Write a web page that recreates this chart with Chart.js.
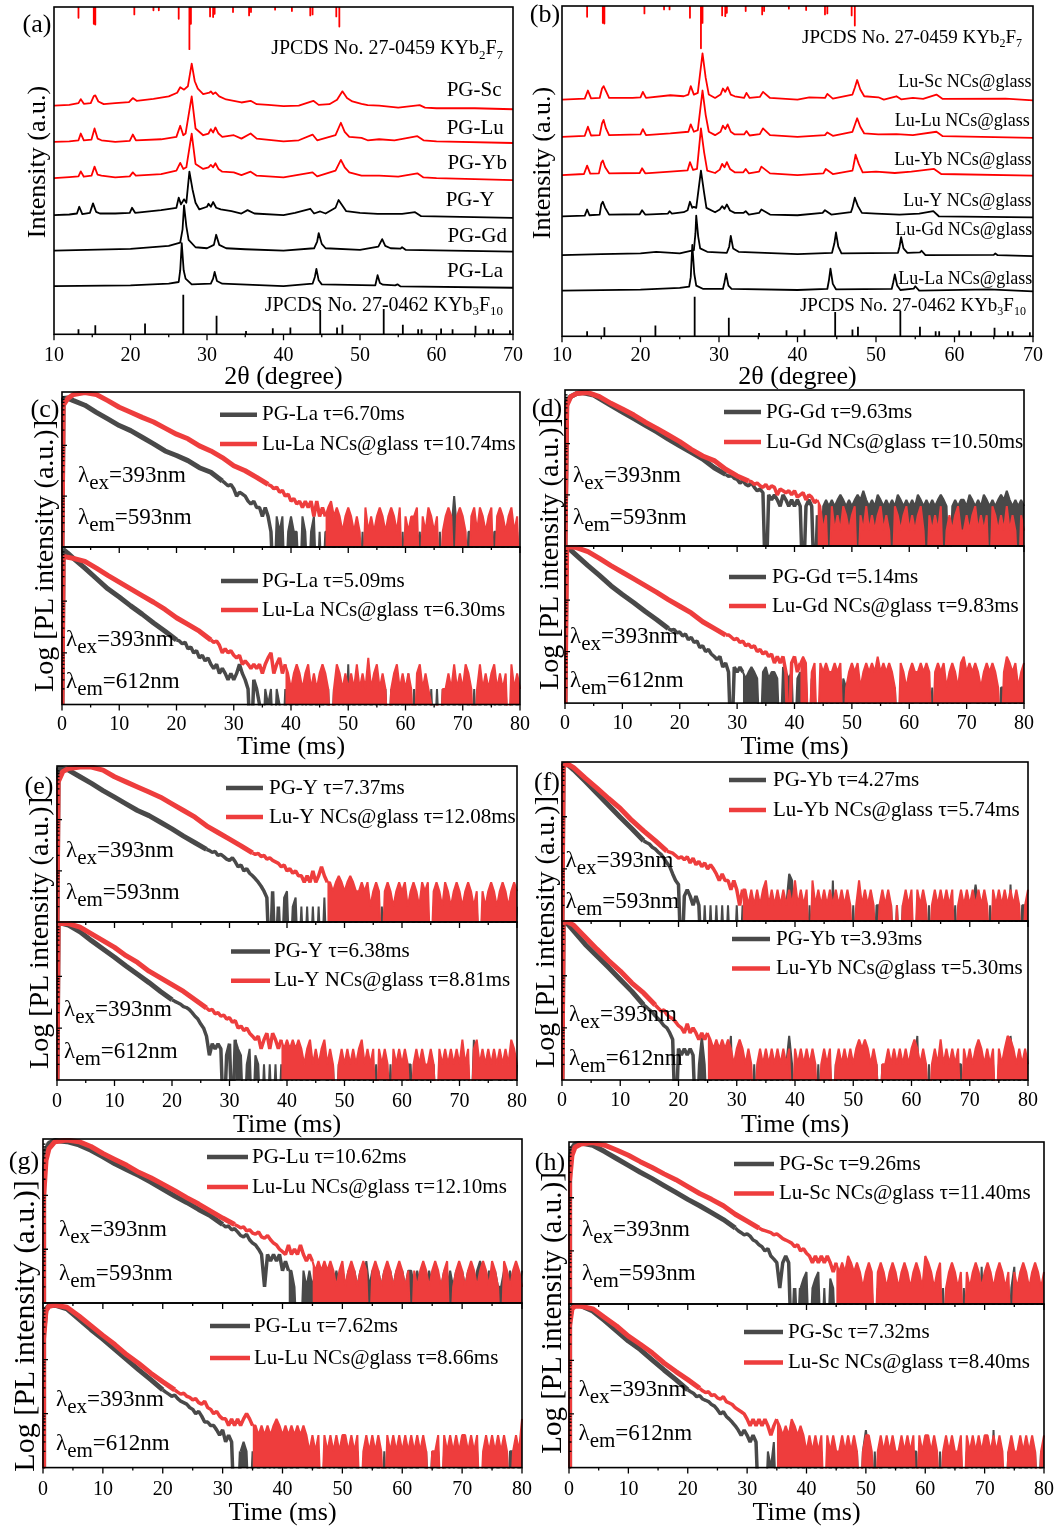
<!DOCTYPE html>
<html>
<head>
<meta charset="utf-8">
<script src="https://cdn.jsdelivr.net/npm/chart.js@4.4.1/dist/chart.umd.min.js"></script>
<style>
  body { margin: 0; background: #fff; width: 1060px; height: 1528px; position: relative; overflow: hidden;
         font-family: "Liberation Serif", "Times New Roman", serif; }
  canvas { position: absolute; }
  .lbl { position: absolute; line-height: 1; white-space: nowrap; color: #000; }
</style>
</head>
<body>
<script>
// ---------- XRD patterns, (a) glass ceramics PG-*, (b) Lu-* NCs@glass ----------
// [2theta, intensity a.u., stacked]
const aSc = [[10,68.8],[12,69],[13.2,69.5],[13.5,70.7],[13.9,69.3],[14.8,69.5],[15.2,71.6],[15.4,71.8],[15.8,70],[16.5,69.2],[18,69.5],[19.8,69.8],[20.3,71.0],[20.8,70.2],[23,70.8],[25,71.5],[26.1,72.6],[26.5,74.2],[27.0,73.5],[27.5,74.5],[28.0,81.2],[28.4,76],[28.8,73.8],[29.5,72.2],[30.3,72.6],[30.5,73],[30.8,72.2],[31.1,72.7],[31.6,71.5],[32.5,70.6],[33.5,70.2],[34.5,69.7],[35.7,70.2],[36.5,69.2],[38,69],[40,68.6],[42,68.8],[43.9,70.2],[44.6,69],[46,69.2],[47,70.5],[47.7,73],[48.3,71],[49,70],[50.2,69.3],[51,68.9],[52.5,68.8],[55,68.2],[57.8,68.9],[58.5,68.2],[60,68],[65,68],[70,67.7]];
const aLu = [[10,58],[12,58.2],[13.2,58.5],[13.5,60.5],[13.9,58.5],[14.9,58.7],[15.3,62],[15.7,59],[16.2,58.5],[18,58],[19.9,58.3],[20.3,60.2],[20.7,58.5],[24,58.8],[26,59.5],[26.5,62.8],[26.9,60],[27.2,60.5],[28.0,71.5],[28.5,62],[29.5,60],[30.2,60.5],[30.5,61.8],[30.8,60.8],[31.1,62.3],[31.5,60.5],[32,59.5],[33.5,60],[34.5,59],[35.7,60.5],[36.5,59],[40,58.2],[42,58.5],[43.8,60.2],[44.4,58.5],[46.8,60],[47.5,63.7],[48.0,61],[48.6,59.5],[50.2,59.2],[51,58.5],[52.5,58.8],[54.5,58.5],[57.5,59.7],[58.3,58.5],[60,58.2],[70,57.7]];
const aYb = [[10,47.3],[12,47.6],[13.2,47.8],[13.5,49.3],[13.9,47.7],[14.9,48],[15.3,50.7],[15.7,48.3],[16.2,48],[18,47.5],[19.9,47.8],[20.3,49],[20.7,48],[24,48.5],[26,49.5],[26.5,51.8],[26.9,50],[27.3,50.5],[28.0,60.5],[28.5,51.5],[29.5,50],[30.2,50.5],[30.5,51.2],[30.8,50.5],[31.1,51.7],[31.5,50],[32,49.2],[33.5,49],[34.5,48.2],[35.7,49.2],[36.5,48],[40,47.5],[43.8,49],[44.4,47.8],[46.8,49.5],[47.5,52.7],[48.0,50.5],[48.6,49],[50.2,48],[52.5,48],[55,47.7],[57.5,48.7],[58.3,47.5],[60,47.3],[70,46.7]];
const aY = [[10,36.3],[12,36.5],[13.0,36.8],[13.3,38.8],[13.7,36.6],[14.7,37],[15.1,39.8],[15.5,37.3],[16,36.8],[18,36.8],[19.9,37],[20.2,38.5],[20.6,37],[24,37.8],[26,38.5],[26.3,41.5],[26.6,39.5],[27.0,41],[27.3,40],[27.7,49.2],[28.1,44],[28.5,40],[29,38],[30.0,38.8],[30.2,39.7],[30.5,38.8],[30.8,40.2],[31.2,38.5],[31.8,38],[33.2,37.5],[34.5,36.8],[35.3,37.8],[36.2,36.8],[40,36.3],[41.5,37],[43.5,38.2],[44.0,36.8],[44.8,37.4],[45.5,36.8],[46.8,38.5],[47.2,40.8],[47.6,39.5],[48.2,37.5],[50,37],[52.3,36.7],[55.5,36.7],[57.2,37.2],[58,36],[70,35.5]];
const aGd = [[10,25.8],[20,26.3],[25,27.2],[26.5,28.2],[26.8,32],[27.0,39.2],[27.3,33],[27.6,29],[28.5,26.8],[30,26.5],[30.9,27.5],[31.2,30.5],[31.6,27.5],[32.5,26.5],[35,26.2],[40,25.8],[44,26.5],[44.4,28.5],[44.6,31],[45.0,27.8],[45.5,26.5],[50,26],[52.4,27],[52.9,29.2],[53.3,27.2],[54,26.5],[55.3,26.4],[55.5,26.8],[56,26],[70,25.5]];
const aLa = [[10,15.3],[20,15.5],[25,16],[26.3,16.5],[26.5,20],[26.7,28],[26.95,20],[27.2,17.5],[28,15.8],[30.5,16],[30.8,17.5],[31.0,19.5],[31.3,16.8],[32,16],[40,15.3],[43.8,16],[44.1,18],[44.3,20.4],[44.6,17],[45,15.8],[52,15.5],[52.1,16.5],[52.3,18.5],[52.6,16.2],[53,15.7],[54.6,15.5],[54.9,15.8],[55.3,15.2],[70,14.8]];

const bSc = [[10,70.5],[12.9,70.8],[13.3,73.2],[13.7,70.9],[14.8,71],[15.1,73.8],[15.3,74.5],[15.6,73],[16,71],[19,71],[20.0,71.2],[20.3,72.8],[20.7,71],[23.8,71.8],[25.5,71.5],[26.1,72],[26.4,74.5],[26.8,72],[27.3,72.5],[27.9,84.2],[28.3,77],[28.7,72],[29.5,71],[30.2,72],[30.5,73.8],[30.8,72.8],[31.1,74.2],[31.5,72],[32,71.5],[33.2,71],[33.5,72.5],[33.9,71],[35.2,71.3],[35.6,72.8],[36.5,71],[40,70.5],[41.5,71.2],[43.5,71],[43.8,72.2],[44.5,70.8],[47,72],[47.3,74],[47.6,76.3],[48.0,73.5],[48.5,71.5],[50.3,71.2],[51,70.5],[52.6,71.5],[53.2,70.6],[54.7,71],[56,70.7],[57.7,72],[58.5,70.7],[66.5,70.8],[70,70.3]];
const bLu = [[10,59.5],[12.9,59.8],[13.3,62.5],[13.7,59.9],[14.8,60],[15.1,63.5],[15.3,64.5],[15.6,62],[16,60],[20.0,60.2],[20.3,61.8],[20.7,60],[23.8,60.5],[26.1,61],[26.4,63.2],[26.8,61],[27.3,61.5],[27.9,73.2],[28.3,66],[28.7,61],[29.5,60],[30.2,61],[30.5,62.8],[30.8,61.8],[31.1,63.2],[31.5,61],[32,60.2],[33.2,60.2],[33.5,61.2],[33.9,59.9],[35.2,60.3],[35.6,62],[36.5,60],[40,59.5],[43.5,60],[43.8,60.8],[44.5,59.8],[47,61],[47.3,63],[47.6,65],[48.0,62.5],[48.5,60.5],[50.3,60.2],[52.6,60.3],[54.7,60],[57.7,61],[58.5,59.7],[70,59.2]];
const bYb = [[10,48.2],[12.8,48.5],[13.2,51],[13.6,48.6],[14.7,48.7],[15.0,51.8],[15.2,52.5],[15.5,50.5],[16,48.7],[19.9,48.8],[20.2,50.2],[20.6,48.7],[23.8,49.2],[26.0,49.6],[26.3,52],[26.7,49.7],[27.2,50],[27.7,62],[28.1,55],[28.5,49.5],[29.5,48.8],[30.1,49.8],[30.4,51.5],[30.7,50.5],[31.0,52],[31.4,50],[32,49],[33.1,49],[33.4,50],[33.8,48.7],[35.1,49.2],[35.4,50.7],[36.5,48.7],[40,48.2],[43.3,48.7],[43.6,50],[44.5,48.5],[47,49.5],[47.1,50.5],[47.4,54.2],[47.8,51.5],[48.3,49],[50,49.2],[52.4,48.8],[54.5,49.2],[57.4,50],[58.3,48.5],[70,48]];
const bY = [[10,36],[12.9,36.2],[13.2,38],[13.5,36.3],[14.8,36.5],[15.0,39.5],[15.2,40.3],[15.5,38.5],[16,36.5],[19.9,36.6],[20.2,37.8],[20.6,36.5],[23.5,36.8],[23.7,37.5],[24,36.8],[25.5,37.2],[26.0,37.8],[26.3,40.3],[26.6,38.5],[26.8,38.8],[27.1,38.5],[27.7,49.5],[28.1,43],[28.4,38.5],[29.5,37.2],[30.1,38],[30.4,39],[30.7,38.2],[31.0,39.5],[31.4,37.7],[32,37],[33.1,37],[33.4,37.5],[33.8,36.5],[35.1,37],[35.4,38],[36.5,36.5],[40,36.3],[43.2,37],[43.5,37.8],[44.3,36.5],[46.8,37.2],[47.0,38.5],[47.3,41.5],[47.7,39],[48.2,37],[50,36.8],[53,36.5],[55.5,36.8],[57.3,37.5],[58,36],[70,35.7]];
const bGd = [[10,24.5],[15,24.8],[20,25],[22,25.5],[25,25],[26.8,26],[27.0,31],[27.1,36.2],[27.35,30],[27.6,26.5],[28.5,25.5],[31,25.2],[31.3,27],[31.5,30.2],[31.8,26.5],[32.5,25.5],[40,24.8],[44.4,25.2],[44.7,28],[44.9,31.2],[45.2,27],[45.6,25],[52.8,25.2],[53.0,27],[53.2,29.8],[53.5,26.5],[54,25.2],[55.6,25.3],[55.8,25.8],[56.3,24.5],[65.0,24.6],[65.2,25],[65.5,24.5],[70,24.2]];
const bLa = [[10,14],[20,14.3],[25,14.8],[26.2,15.2],[26.4,18],[26.6,27.5],[26.85,19],[27.1,15.5],[28,14.5],[30.5,14.5],[30.7,16.5],[30.9,19],[31.2,15.5],[31.6,14.5],[40,14.2],[43.8,14.5],[44.0,17],[44.2,20.5],[44.5,16],[44.9,14.4],[52,14.5],[52.2,16.5],[52.4,18.8],[52.7,15.5],[53.1,14.2],[54.8,14.6],[55,15.3],[55.5,14],[64.4,14.4],[70,13.8]];

// standard cards: stick positions (2theta) and relative heights (a.u.)
const kyb2f7Pos = [13.2, 15.2, 15.4, 20.5, 23.0, 23.7, 26.3, 27.7, 27.9, 30.4, 30.8, 31.0, 33.4, 35.5, 35.75, 38.9, 41.1, 43.5, 43.8, 46.9, 47.3];
const kyb2f7Int = [3.2, 5.0, 5.2, 2.2, 1.0, 1.0, 3.5, 12.5, 5.0, 2.8, 3.0, 2.0, 1.5, 2.5, 1.5, 0.8, 1.2, 2.5, 2.2, 2.8, 5.8];
const kyb3f10Pos = [13.2, 15.4, 21.9, 26.9, 31.25, 35.1, 38.6, 40.9, 44.8, 47.0, 47.7, 53.1, 55.6, 57.6, 58.05, 60.6, 62.1, 65.1, 66.8, 67.4, 69.6];
const kyb3f10Int = [1.5, 2.7, 3.2, 11.7, 5.5, 1.0, 1.8, 2.0, 7.2, 2.0, 2.8, 7.5, 2.8, 1.5, 1.5, 1.7, 1.5, 2.5, 1.5, 1.5, 1.2];

// ---------- decay curves ----------
// decay: [time ms, log10(counts)]
// mid / tail: photon counts per 0.5 ms bin (one base-36 digit each), mid follows the decay, tail follows mid
const c593PG = [[0,0],[0.2,2.92],[1,2.93],[2,2.88],[4,2.79],[6,2.65],[8,2.52],[10,2.39],[12,2.29],[14,2.16],[16,2.03],[18,1.89],[20,1.80],[22,1.70],[24,1.56],[26,1.47],[28,1.30]];
const c593PGMid = "igheacba 8786646420";
const c593PGTail = "4240242204 2024020220 2022020120 2020220202 0220202021 2020220202 02a2020220 2020202202 0220202022";
const c593Lu = [[0,0],[0.2,2.79],[1,2.92],[2,3.0],[4,3.04],[6,3.0],[8,2.88],[10,2.75],[12,2.65],[14,2.55],[16,2.46],[18,2.34],[20,2.22],[22,2.13],[24,1.99],[26,1.89],[28,1.76],[30,1.60],[32,1.50],[34,1.37],[36,1.23]];
const c593LuMid = "gefcdab897 8686848464";
const c593LuTail = "6846424642 4206242464 2464260424 4604264240 2464046420 4626424604 6424624042";
const c612PG = [[0,0],[0.2,3.0],[1,2.93],[2,2.83],[4,2.64],[6,2.44],[8,2.24],[10,2.08],[12,1.91],[14,1.75],[16,1.58],[18,1.42],[20,1.25]];
const c612PGMid = "hfgcdab8978656454343 4643203210";
const c612PGTail = "2120210202 0201202020 2020202206 0202020202 2020204020 4020202020 2020202020 0202020202 2020202020";
const c612Lu = [[0,0],[0.2,2.87],[1,2.85],[2,2.83],[4,2.77],[6,2.64],[8,2.50],[10,2.37],[12,2.24],[14,2.11],[16,1.98],[18,1.84],[20,1.68],[22,1.55],[24,1.42],[26,1.25]];
const c612LuMid = "gheacab989676565 6468a46846";
const c612LuTail = "4246424624 2464202642 4242624282 4624202462 4242046242 1010224262 4264202624 2462424062 4202424242";

const d593PG = [[0,0],[0.3,2.82],[1,2.92],[2,2.98],[3,3.0],[5,2.95],[8,2.75],[10,2.62],[12,2.49],[14,2.36],[16,2.23],[18,2.09],[20,1.96],[22,1.83],[24,1.70],[26,1.53],[28,1.40]];
const d593PGMid = "nolkhjgfhecd b0a8a86a86 8686068604";
const d593PGTail = "0686868a86 868a8c8686 a868686a86 8686a86868 68a8606868 86a8686a86 868a8c8686 8686868686";
const d593Lu = [[0,0],[0.3,2.75],[1,2.92],[2,2.98],[4,3.0],[6,2.92],[8,2.79],[10,2.68],[12,2.56],[14,2.42],[16,2.30],[18,2.17],[20,2.04],[22,1.89],[24,1.76],[26,1.67],[28,1.50],[30,1.37],[32,1.27]];
const d593LuMid = "ighfegdfeadcbcac9ab8a978";
const d593LuTail = "6240624264 2460426242 4624206424 6242462042 4260242462 2424624240 6424262420 4262424624";
const d612PG = [[0,0],[0.2,3.0],[1,2.97],[2,2.87],[4,2.67],[6,2.48],[8,2.28],[10,2.11],[12,1.95],[14,1.78],[16,1.62],[18,1.45]];
const d612PGMid = "qrnokmhjfgcdab98 7856405454";
const d612PGTail = "3454304534 4305434034 2303202320 2020320202 0202020202 2020202020 0202020202 2020202020 0202020202 2020202020";
const d612Lu = [[0,0],[0.3,3.04],[2,3.02],[4,2.94],[6,2.81],[8,2.67],[10,2.54],[12,2.41],[14,2.28],[16,2.15],[18,2.01],[20,1.88],[22,1.75],[24,1.58],[26,1.45],[28,1.32]];
const d612LuMid = "ljhifgdecdab9a89 6868406846";
const d612LuTail = "8604606464 4646024646 2464648464 6420642464 4646404646 2464268464 6424646420 4864624646";

const e593PG = [[0,0],[0.2,3.0],[1,3.0],[2,2.97],[4,2.84],[6,2.71],[8,2.57],[10,2.44],[12,2.31],[14,2.18],[16,2.08],[18,1.95],[20,1.82],[22,1.68],[24,1.55],[26,1.42]];
const e593PGMid = "pnokljhgifcdab98 7654304020";
const e593PGTail = "3402302020 2020302020 0202020202 2020202020 0202020202 2020202020 0202020202 2020202020 0202020202";
const e593Lu = [[0,0],[0.2,2.74],[1,2.94],[2,3.0],[4,3.03],[6,3.03],[8,2.97],[10,2.84],[12,2.74],[14,2.64],[16,2.54],[18,2.44],[20,2.31],[22,2.18],[24,2.05],[26,1.88],[28,1.75],[30,1.62],[32,1.49],[34,1.35]];
const e593LuMid = "lmjkhigfecdab9a8 8686a68c86";
const e593LuTail = "6468646864 4646246404 6424646246 4264604642 6424642464 2404246424 6424642460";
const e612PG = [[0,0],[0.2,3.02],[1,3.02],[2,2.99],[4,2.86],[6,2.69],[8,2.53],[10,2.37],[12,2.20],[14,2.04],[16,1.88],[18,1.71],[20,1.55]];
const e612PGMid = "xvtqpnkhfca7 3545403506";
const e612PGTail = "4302403202 0202020202 2020202020 0202020202 2020202020 0202020202 2020202020 0202020202 2060202020 0202020202";
const e612Lu = [[0,0],[0.2,3.02],[2,3.02],[4,2.95],[6,2.82],[8,2.69],[10,2.56],[12,2.40],[14,2.27],[16,2.10],[18,1.97],[20,1.84],[22,1.71],[24,1.55],[26,1.39]];
const e612LuMid = "mnjkhifgdeab9a87 6746848646";
const e612LuTail = "4646464246 2424624202 4242424624 2404242042 4242024242 2420424242 4262404624 2424242426 4202424262";

const f593PG = [[0,0],[0.2,3.0],[1,3.0],[2,2.90],[4,2.68],[6,2.45],[8,2.22],[10,1.99],[12,1.77],[14,1.54]];
const f593PGMid = "wuqoljgdb8 6503432320";
const f593PGTail = "2020202020 0202020202 2020202028 6020202020 2020602020 0202020202 2020202020 0202020202 2020202020 2025202020 0202050202 2020202020";
const f593Lu = [[0,0],[0.2,2.97],[1,3.01],[2,2.94],[4,2.74],[6,2.55],[8,2.35],[10,2.16],[12,1.93],[14,1.73],[16,1.54],[18,1.34]];
const f593LuMid = "lkighfhdgcebdaca 8686646424";
const f593LuTail = "4242424624 2424242624 2406242424 2424242026 2424202424 2020242404 2420242424 2402424242 4242042424 2424202424";
const f612PG = [[0,0],[0.2,3.03],[1,2.99],[2,2.86],[4,2.60],[6,2.38],[8,2.16],[10,1.93],[12,1.70],[14,1.44]];
const f612PGMid = "pmkhfdba 8604343430";
const f612PGTail = "2720202020 2702020202 0202020202 2720202020 0202020202 2020202020 0202020202 2020270202 0202020202 2020202020 0202020720 2020202020";
const f612Lu = [[0,0],[0.2,3.03],[1,3.03],[2,2.97],[4,2.74],[6,2.51],[8,2.29],[10,2.09],[12,1.86],[14,1.67],[16,1.44]];
const f612LuMid = "olmigfdb a8c8a86868";
const f612LuTail = "6464646424 6424202424 2424242404 2424242024 2402424242 4646424202 2424242424 6424202426 2424240424 2464242404 2476424242";

const g593PG = [[0,0],[0.1,2.28],[0.5,2.84],[1,2.97],[2,3.02],[4,3.0],[6,2.94],[8,2.84],[10,2.72],[12,2.59],[14,2.48],[16,2.37],[18,2.25],[20,2.12],[22,1.99],[24,1.87],[26,1.74],[28,1.62],[30,1.46]];
const g593PGMid = "qrnolihjfdca 8286868464";
const g593PGTail = "4200424242 2424242424 2424262424 2424242424 4242424242 2424242424 4246424242 2424242424";
const g593Lu = [[0,0],[0.1,1.96],[0.5,2.65],[1,2.87],[2,3.0],[4,3.03],[6,3.0],[8,2.91],[10,2.78],[12,2.67],[14,2.56],[16,2.43],[18,2.33],[20,2.21],[22,2.09],[24,1.96],[26,1.84],[28,1.71],[30,1.58],[32,1.46]];
const g593LuMid = "rpqmnkjlhgifdca9 8c8a8c8686";
const g593LuTail = "4646464246 2464246404 6424642464 2404246424 6424602464 2464246426 4206424642";
const g612PG = [[0,0],[0.1,2.5],[0.5,2.94],[1,3.0],[2,3.01],[4,2.94],[6,2.75],[8,2.56],[10,2.38],[12,2.19],[14,2.0],[16,1.81],[18,1.63],[20,1.44]];
const g612PGMid = "pnlmjhgfdcab9776 6545343002";
const g612PGTail = "3202020202 2020202020 0202020202 2020202020 0202020202 2020202020 0202020202 2020202020 0202020202 2020202020";
const g612Lu = [[0,0],[0.1,2.38],[0.5,2.91],[1,2.99],[2,3.01],[4,2.97],[6,2.81],[8,2.63],[10,2.45],[12,2.28],[14,2.09],[16,1.93],[18,1.75],[20,1.59],[22,1.44]];
const g612LuMid = "pnolkijgfhdcab98 8686868a86";
const g612LuTail = "6464646864 6464646424 2404242424 4242402424 2420424242 4242424202 2404242424 4242402424 2424202428";

const h593PG = [[0,0],[0.1,2.64],[0.5,2.93],[1,3.01],[2,3.03],[4,2.99],[6,2.87],[8,2.74],[10,2.61],[12,2.48],[14,2.36],[16,2.23],[18,2.10],[20,1.97],[22,1.85],[24,1.72],[26,1.59],[28,1.43]];
const h593PGMid = "omkljgfdcab8 7626860202";
const h593PGTail = "3402340203 2020202020 0202020202 2020202020 0202020202 2020202020 5020202020 2502020202 2020202020";
const h593Lu = [[0,0],[0.1,2.32],[0.5,2.80],[1,2.95],[2,3.01],[4,3.04],[6,2.99],[8,2.90],[10,2.80],[12,2.68],[14,2.57],[16,2.45],[18,2.34],[20,2.21],[22,2.08],[24,1.97],[26,1.85],[28,1.69],[30,1.56],[32,1.43]];
const h593LuMid = "ponmkljhgfecdab9 8686868646";
const h593LuTail = "4648646424 6404642464 2464246428 6424602464 2404246424 6424642404 2464246424";
const h612PG = [[0,0],[0.1,2.77],[0.5,2.99],[1,3.02],[2,3.02],[4,2.92],[6,2.74],[8,2.55],[10,2.36],[12,2.20],[14,2.01],[16,1.82],[18,1.64],[20,1.45]];
const h612PGMid = "qolmjihfecab9876 5454343000";
const h612PGTail = "2130213021 2020202020 0202020202 2025202020 0202020202 2020202020 0202020202 2020205020 0202020202 2020202020";
const h612Lu = [[0,0],[0.1,2.64],[0.5,2.96],[1,3.01],[2,3.01],[4,2.96],[6,2.80],[8,2.64],[10,2.45],[12,2.30],[14,2.14],[16,1.95],[18,1.79],[20,1.64],[22,1.48]];
const h612LuMid = "rpqmnkjlhgfdcba8 6868686468";
const h612LuTail = "6464864642 4242404242 2424242024 4202424242 2424240424 4242024242 2404242424 4242420242 2424242024";

// ---------- helpers ----------
const FONT = '"Liberation Serif", "Times New Roman", serif';
const GRAY = '#494949', RED = '#ee3d3d';
Chart.defaults.font.family = FONT;
Chart.defaults.color = '#000';

function pts(arr) { return arr.map(([x, y]) => ({x, y})); }

// counts per 0.5 ms bin -> points, starting from a given point
function binPoints(start, str) {
  const out = [start];
  str.replace(/\s/g, '').split('').forEach((ch, i) => {
    const n = parseInt(ch, 36);
    out.push({x: start.x + 0.5 * (i + 1), y: n > 0 ? Math.log10(n) : -1});
  });
  return out;
}

function curveSets(decay, mid, tail, color) {
  const d = pts(decay);
  const m = binPoints(d[d.length - 1], mid);
  const t = binPoints(m[m.length - 1], tail);
  return [
    {data: t, borderColor: color, backgroundColor: color, borderWidth: 2, fill: 'start'},
    {data: m, borderColor: color, borderWidth: 3.5},
    {data: d, borderColor: color, borderWidth: 5}
  ];
}

function sticks(pos, ints, base, dir) {
  const out = [];
  pos.forEach((p, i) => out.push({x: p, y: base}, {x: p, y: base + dir * ints[i]}, {x: p, y: null}));
  return out;
}

function richWidth(ctx, parts, size) {
  let w = 0;
  parts.forEach(([t, sub]) => { ctx.font = `${sub ? Math.round(size * 0.65) : size}px ${FONT}`; w += ctx.measureText(t).width; });
  return w;
}

const deco = {
  id: 'deco',
  afterDatasetsDraw(chart, args, o) {
    const {ctx, chartArea: a} = chart;
    const x = chart.scales.x, y = chart.scales.y;
    ctx.save();
    ctx.strokeStyle = '#000';
    ctx.lineWidth = 1.6;
    ctx.strokeRect(a.left, a.top, a.right - a.left, a.bottom - a.top);
    ctx.lineWidth = 1.3;
    ctx.beginPath();
    for (let v = x.min; v <= x.max + 1e-9; v += o.minor) {
      const px = x.getPixelForValue(v);
      const len = Math.abs(v % o.major) < 1e-9 ? 6 : 3;
      ctx.moveTo(px, a.bottom); ctx.lineTo(px, a.bottom + len);
    }
    if (o.logTicks) {
      y.ticks.forEach(t => {
        for (let m = 1; m < 10; m++) {
          const v = t.value + Math.log10(m);
          if (v <= y.min || v >= y.max) continue;
          const py = y.getPixelForValue(v);
          ctx.moveTo(a.left, py); ctx.lineTo(a.left + (m === 1 ? 5 : 2.5), py);
        }
      });
    }
    ctx.stroke();

    ctx.textBaseline = 'middle';
    ctx.fillStyle = '#000';
    if (o.legend) {
      const L = o.legend;
      L.rows.forEach((dy, i) => {
        const yy = a.top + dy;
        ctx.strokeStyle = L.colors[i]; ctx.lineWidth = 4.5;
        ctx.beginPath(); ctx.moveTo(a.left + L.x0, yy); ctx.lineTo(a.left + L.x1, yy); ctx.stroke();
        ctx.font = `21px ${FONT}`; ctx.textAlign = 'left';
        ctx.fillText(L.labels[i], a.left + L.tx, yy);
      });
    }
    if (o.lam) {
      const l = o.lam;
      [['ex', '=393nm', l.dy1], ['em', '=' + l.em, l.dy2]].forEach(([sub, rest, dy]) => {
        let xx = a.left + l.dx; const yy = a.top + dy;
        ctx.textAlign = 'left';
        ctx.font = `23px ${FONT}`; ctx.fillText('λ', xx, yy); xx += ctx.measureText('λ').width;
        ctx.font = `21px ${FONT}`; ctx.fillText(sub, xx, yy + 7); xx += ctx.measureText(sub).width;
        ctx.font = `23px ${FONT}`; ctx.fillText(rest, xx, yy);
      });
    }
    if (o.texts) {
      o.texts.forEach(t => {
        let xx = x.getPixelForValue(t.x) - richWidth(ctx, t.parts, t.size);
        const yy = y.getPixelForValue(t.y);
        ctx.textAlign = 'left';
        t.parts.forEach(([s, sub]) => {
          ctx.font = `${sub ? Math.round(t.size * 0.65) : t.size}px ${FONT}`;
          ctx.fillText(s, xx, yy + (sub ? t.size * 0.3 : 0));
          xx += ctx.measureText(s).width;
        });
      });
    }
    ctx.restore();
  }
};

function addCanvas(left, top, w, h) {
  const cv = document.createElement('canvas');
  cv.width = w; cv.height = h;
  cv.style.left = left + 'px'; cv.style.top = top + 'px';
  document.body.appendChild(cv);
  return cv;
}

function addText(txt, cx, cy, size, rot) {
  const d = document.createElement('div');
  d.className = 'lbl';
  d.textContent = txt;
  d.style.left = cx + 'px'; d.style.top = cy + 'px'; d.style.fontSize = size + 'px';
  d.style.transform = 'translate(-50%,-50%)' + (rot ? ' rotate(-90deg)' : '');
  document.body.appendChild(d);
}

function xAxis(show, min, max, p, tp, title) {
  return {
    type: 'linear', min, max, display: show,
    ticks: {stepSize: 10, padding: p, maxRotation: 0, font: {size: 20, lineHeight: 1}, color: '#000'},
    grid: {display: false, drawTicks: false}, border: {display: false},
    title: {display: true, text: title, color: '#000', font: {size: 26, lineHeight: 1}, padding: {top: tp, bottom: 0}}
  };
}

// one decay sub-plot: red curve drawn over the gray one
function decay(box, top, bottom, showX, pg, lu, labels, legend, lam) {
  const padT = 6, padL = 22, padR = 26, padB = showX ? 0 : 8;
  const axisH = showX ? 2 * box.p + 20 + 26 + box.tp : 0;
  const h = bottom - top;
  const cv = addCanvas(box.left - padL, top - padT, box.w + padL + padR, Math.round(padT + h + axisH + padB));
  new Chart(cv, {
    type: 'line',
    data: {datasets: [...curveSets(lu[0], lu[1], lu[2], RED), ...curveSets(pg[0], pg[1], pg[2], GRAY)]},
    options: {
      responsive: false, animation: false, events: [],
      layout: {padding: {left: padL, right: padR, top: padT, bottom: padB}},
      elements: {point: {radius: 0}, line: {tension: 0, borderJoinStyle: 'bevel'}},
      datasets: {line: {clip: 1}},
      plugins: {
        legend: {display: false}, tooltip: {enabled: false}, filler: {propagate: false},
        deco: {minor: 5, major: 10, logTicks: true,
               legend: {...legend, labels, colors: [GRAY, RED]}, lam}
      },
      scales: {
        x: xAxis(showX, 0, 80, box.p, box.tp, 'Time (ms)'),
        y: {type: 'linear', min: 0, max: 3.05, display: false, ticks: {stepSize: 1}}
      }
    },
    plugins: [deco]
  });
}

function xrd(box, series, colors, texts) {
  const padT = 6, padL = 22, padR = 22;
  const axisH = 2 * box.p + 20 + 26 + box.tp;
  const cv = addCanvas(box.left - padL, box.top - padT, box.w + padL + padR, Math.round(padT + box.h + axisH));
  const ds = series.map((s, i) => ({data: pts(s), borderColor: colors[i], borderWidth: 1.8}));
  ds.push({data: sticks(kyb2f7Pos, kyb2f7Int, box.ymax, -1), borderColor: '#ff0000', borderWidth: 1.8});
  ds.push({data: sticks(kyb3f10Pos, kyb3f10Int, box.ymin, 1), borderColor: '#000', borderWidth: 1.8});
  new Chart(cv, {
    type: 'line',
    data: {datasets: ds},
    options: {
      responsive: false, animation: false, events: [],
      layout: {padding: {left: padL, right: padR, top: padT, bottom: 0}},
      elements: {point: {radius: 0}, line: {tension: 0, borderJoinStyle: 'round'}},
      spanGaps: false,
      plugins: {legend: {display: false}, tooltip: {enabled: false},
                deco: {minor: 5, major: 10, logTicks: false, texts}},
      scales: {
        x: xAxis(true, 10, 70, box.p, box.tp, '2θ (degree)'),
        y: {type: 'linear', min: box.ymin, max: box.ymax, display: false}
      }
    },
    plugins: [deco]
  });
}

// ---------- (a) and (b) ----------
const R = '#ff0000', K = '#000000';
const card7 = [['JPCDS No. 27-0459 KYb', 0], ['2', 1], ['F', 0], ['7', 1]];
const card10 = [['JPCDS No. 27-0462 KYb', 0], ['3', 1], ['F', 0], ['10', 1]];
xrd({left: 54, top: 7, w: 459, h: 327, ymin: 1, ymax: 98, p: 11, tp: -12.3},
  [aSc, aLu, aYb, aY, aGd, aLa], [R, R, R, K, K, K],
  [{x: 68.5, y: 73.2, size: 21, parts: [['PG-Sc', 0]]}, {x: 68.8, y: 62, size: 21, parts: [['PG-Lu', 0]]},
   {x: 69.2, y: 51.7, size: 21, parts: [['PG-Yb', 0]]}, {x: 67.6, y: 40.8, size: 21, parts: [['PG-Y', 0]]},
   {x: 69.2, y: 30, size: 21, parts: [['PG-Gd', 0]]}, {x: 68.7, y: 19.5, size: 21, parts: [['PG-La', 0]]},
   {x: 68.7, y: 85.5, size: 20, parts: card7}, {x: 68.7, y: 9.5, size: 20, parts: card10}]);
xrd({left: 562, top: 6, w: 471, h: 330, ymin: 0.5, ymax: 98.2, p: 9.4, tp: -11.1},
  [bSc, bLu, bYb, bY, bGd, bLa], [R, R, R, K, K, K],
  [{x: 69.8, y: 75.5, size: 18, parts: [['Lu-Sc NCs@glass', 0]]}, {x: 69.6, y: 64, size: 18, parts: [['Lu-Lu NCs@glass', 0]]},
   {x: 69.8, y: 52.5, size: 18, parts: [['Lu-Yb NCs@glass', 0]]}, {x: 69.8, y: 40.3, size: 18, parts: [['Lu-Y NCs@glass', 0]]},
   {x: 69.9, y: 32, size: 18, parts: [['Lu-Gd NCs@glass', 0]]}, {x: 69.9, y: 17.5, size: 18, parts: [['Lu-La NCs@glass', 0]]},
   {x: 68.6, y: 88.8, size: 19, parts: card7}, {x: 69.1, y: 9.5, size: 19, parts: card10}]);

// ---------- (c)-(h) ----------
const bc = {left: 62, w: 458, p: 10.5, tp: -11.5};
decay(bc, 392, 547, false, [c593PG, c593PGMid, c593PGTail], [c593Lu, c593LuMid, c593LuTail], ['PG-La τ=6.70ms', 'Lu-La NCs@glass τ=10.74ms'],
  {x0: 158, x1: 195, tx: 200, rows: [22.7, 52]}, {dx: 16, dy1: 84, dy2: 126, em: '593nm'});
decay(bc, 547, 704, true, [c612PG, c612PGMid, c612PGTail], [c612Lu, c612LuMid, c612LuTail], ['PG-La τ=5.09ms', 'Lu-La NCs@glass τ=6.30ms'],
  {x0: 159, x1: 196, tx: 200, rows: [34, 63]}, {dx: 4, dy1: 93, dy2: 135, em: '612nm'});

const bd = {left: 565, w: 459, p: 10.2, tp: -9.5};
decay(bd, 390, 546, false, [d593PG, d593PGMid, d593PGTail], [d593Lu, d593LuMid, d593LuTail], ['PG-Gd τ=9.63ms', 'Lu-Gd NCs@glass τ=10.50ms'],
  {x0: 159, x1: 196, tx: 201, rows: [22, 52]}, {dx: 8, dy1: 86, dy2: 128, em: '593nm'});
decay(bd, 546, 703, true, [d612PG, d612PGMid, d612PGTail], [d612Lu, d612LuMid, d612LuTail], ['PG-Gd τ=5.14ms', 'Lu-Gd NCs@glass τ=9.83ms'],
  {x0: 164, x1: 201, tx: 207, rows: [31, 60]}, {dx: 5, dy1: 91, dy2: 135, em: '612nm'});

const be = {left: 57, w: 460, p: 11.3, tp: -10.6};
decay(be, 766, 922, false, [e593PG, e593PGMid, e593PGTail], [e593Lu, e593LuMid, e593LuTail], ['PG-Y τ=7.37ms', 'Lu-Y NCs@glass τ=12.08ms'],
  {x0: 169, x1: 206, tx: 212, rows: [22, 51]}, {dx: 9, dy1: 85, dy2: 127, em: '593nm'});
decay(be, 922, 1080, true, [e612PG, e612PGMid, e612PGTail], [e612Lu, e612LuMid, e612LuTail], ['PG-Y τ=6.38ms', 'Lu-Y NCs@glass τ=8.81ms'],
  {x0: 174, x1: 213, tx: 217, rows: [29.6, 58.7]}, {dx: 7, dy1: 88, dy2: 130, em: '612nm'});

const bf = {left: 562, w: 466, p: 10.3, tp: -8.6};
decay(bf, 762, 921, false, [f593PG, f593PGMid, f593PGTail], [f593Lu, f593LuMid, f593LuTail], ['PG-Yb τ=4.27ms', 'Lu-Yb NCs@glass τ=5.74ms'],
  {x0: 167, x1: 204, tx: 211, rows: [18, 48]}, {dx: 3.5, dy1: 99, dy2: 140, em: '593nm'});
decay(bf, 921, 1080, true, [f612PG, f612PGMid, f612PGTail], [f612Lu, f612LuMid, f612LuTail], ['PG-Yb τ=3.93ms', 'Lu-Yb NCs@glass τ=5.30ms'],
  {x0: 170, x1: 208, tx: 214, rows: [18, 47.5]}, {dx: 7, dy1: 94, dy2: 138, em: '612nm'});

const bg = {left: 43, w: 479, p: 11.8, tp: -11.2};
decay(bg, 1139, 1303, false, [g593PG, g593PGMid, g593PGTail], [g593Lu, g593LuMid, g593LuTail], ['PG-Lu τ=10.62ms', 'Lu-Lu NCs@glass τ=12.10ms'],
  {x0: 164, x1: 205, tx: 209, rows: [18, 48]}, {dx: 16, dy1: 91, dy2: 135, em: '593nm'});
decay(bg, 1303, 1468, true, [g612PG, g612PGMid, g612PGTail], [g612Lu, g612LuMid, g612LuTail], ['PG-Lu τ=7.62ms', 'Lu-Lu NCs@glass τ=8.66ms'],
  {x0: 167, x1: 207, tx: 211, rows: [23, 55]}, {dx: 13, dy1: 97, dy2: 141, em: '612nm'});

const bh = {left: 569, w: 475, p: 11.8, tp: -11.2};
decay(bh, 1142, 1304, false, [h593PG, h593PGMid, h593PGTail], [h593Lu, h593LuMid, h593LuTail], ['PG-Sc τ=9.26ms', 'Lu-Sc NCs@glass τ=11.40ms'],
  {x0: 165, x1: 205, tx: 210, rows: [22, 51.5]}, {dx: 13, dy1: 88, dy2: 132, em: '593nm'});
decay(bh, 1304, 1468, true, [h612PG, h612PGMid, h612PGTail], [h612Lu, h612LuMid, h612LuTail], ['PG-Sc τ=7.32ms', 'Lu-Sc NCs@glass τ=8.40ms'],
  {x0: 175, x1: 214, tx: 219, rows: [28, 58.4]}, {dx: 9.5, dy1: 86, dy2: 130, em: '612nm'});

// ---------- axis titles and panel tags ----------
addText('Intensity (a.u.)', 37, 162, 26, true);
addText('Intensity (a.u.)', 542, 163, 26, true);
const ylab = 'Log [PL intensity (a.u.)]';
addText(ylab, 44, 556, 28, true);
addText(ylab, 548.6, 554, 28, true);
addText(ylab, 39, 933, 28, true);
addText(ylab, 545, 932, 28, true);
addText(ylab, 23.6, 1326, 30, true);
addText(ylab, 551, 1313, 29, true);
[['(a)', 37, 24], ['(b)', 545, 14], ['(c)', 45, 409], ['(d)', 547, 408], ['(e)', 39, 786],
 ['(f)', 547, 782], ['(g)', 24, 1161], ['(h)', 550, 1162]].forEach(([t, x, y]) => addText(t, x, y, 26, false));
</script>
</body>
</html>
